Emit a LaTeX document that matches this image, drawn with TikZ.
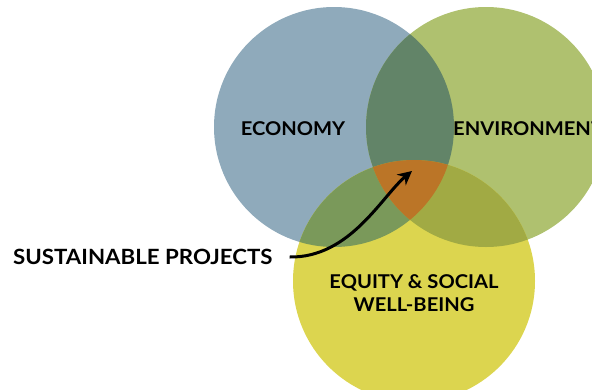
\documentclass[tikz,border=0pt]{standalone}
\usepackage{fontspec}
\setmainfont{Lato}
\newfontfamily\lblfont[FakeStretch=1.06]{Lato}
\usetikzlibrary{arrows.meta}
\definecolor{econ}{HTML}{8FAABB}
\definecolor{envi}{HTML}{AFC16F}
\definecolor{equi}{HTML}{DCD54F}
\definecolor{econenv}{HTML}{628468}
\definecolor{econequ}{HTML}{7A995A}
\definecolor{envequ}{HTML}{A1AA44}
\definecolor{core}{HTML}{BB7527}
\tikzset{
  lbl/.style={font=\lblfont\bfseries\fontsize{19}{23}\selectfont, text=black, inner sep=0pt, align=center},
  biglbl/.style={lbl, font=\lblfont\bfseries\fontsize{21}{25}\selectfont},
  arr/.style={-{Stealth[length=14pt,width=14pt]}, line width=3pt, black},
}
\begin{document}
\begin{tikzpicture}[x=1pt,y=-1pt]
\useasboundingbox (0,0) rectangle (592,389);
\clip (0,0) rectangle (592,389);
\def\econpath{(334,127) circle[radius=120]}
\def\envpath{(486,127) circle[radius=120]}
\def\equpath{(414,281) circle[radius=121]}
\fill[econ] \econpath;
\fill[envi] \envpath;
\fill[equi] \equpath;
\begin{scope}\clip \econpath; \fill[econenv] \envpath; \end{scope}
\begin{scope}\clip \econpath; \fill[econequ] \equpath; \end{scope}
\begin{scope}\clip \envpath; \fill[envequ] \equpath; \end{scope}
\begin{scope}\clip \econpath; \clip \envpath; \fill[core] \equpath; \end{scope}
\node[lbl] (econ) at (293,129) {ECONOMY};
\node[lbl, anchor=west] (env) at (453,129) {ENVIRONMENT};
\node[lbl] (equ) at (414,293) {EQUITY \& SOCIAL\\WELL-BEING};
\node[biglbl, anchor=west] (sp) at (13,257) {SUSTAINABLE PROJECTS};
\coordinate (tip) at (412,171);
\draw[arr] ([xshift=17pt]sp.east) .. controls (350,258) and (382,196) .. (tip);
\end{tikzpicture}
\end{document}
